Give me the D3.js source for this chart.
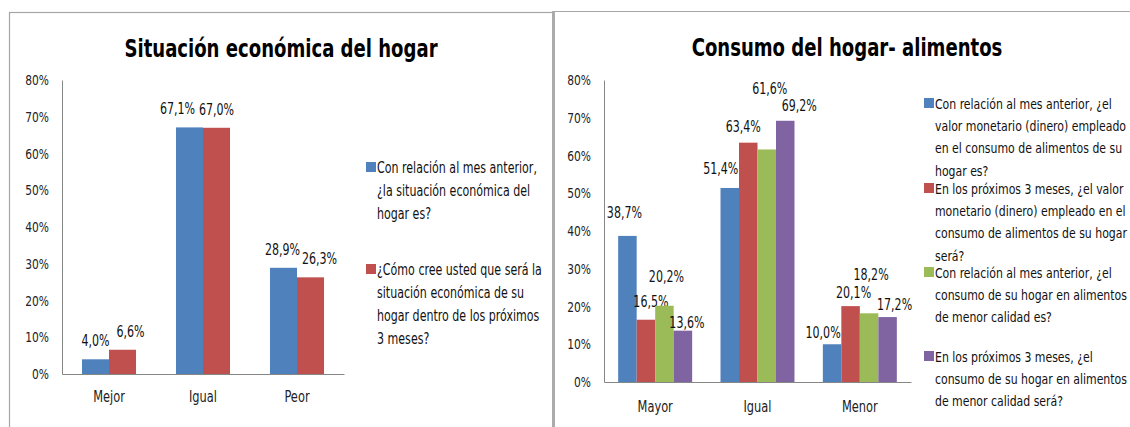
<!DOCTYPE html>
<html>
<head>
<meta charset="utf-8">
<script src="https://cdn.jsdelivr.net/npm/d3@7"></script>
<style>
  html, body { margin: 0; padding: 0; background: #fff; }
  svg { display: block; }
  text { font-family: "DejaVu Sans Condensed", "DejaVu Sans", sans-serif; font-stretch: condensed; fill: #111; }
</style>
</head>
<body>
<svg id="chart" width="1130" height="427"></svg>
<script>
// data //
var hogarCats = ["Mejor", "Igual", "Peor"];
var hogarActual = [4.0, 67.1, 28.9];
var hogarFuturo = [6.6, 67.0, 26.3];
var hogarLegend = [
  ["Con relación al mes anterior,", "¿la situación económica del", "hogar es?"],
  ["¿Cómo cree usted que será la", "situación económica de su", "hogar dentro de los próximos", "3 meses?"]
];

var consumoCats = ["Mayor", "Igual", "Menor"];
var valorActual = [38.7, 51.4, 10.0];
var valorFuturo = [16.5, 63.4, 20.1];
var calidadActual = [20.2, 61.6, 18.2];
var calidadFuturo = [13.6, 69.2, 17.2];
var consumoLegend = [
  ["Con relación al mes anterior, ¿el", "valor monetario (dinero) empleado", "en el consumo de alimentos de su", "hogar es?"],
  ["En los próximos 3 meses, ¿el valor", "monetario (dinero) empleado en el", "consumo de alimentos de su hogar", "será?"],
  ["Con relación al mes anterior, ¿el", "consumo de su hogar en alimentos", "de menor calidad es?"],
  ["En los próximos 3 meses, ¿el", "consumo de su hogar en alimentos", "de menor calidad será?"]
];

var yTicks = [0, 10, 20, 30, 40, 50, 60, 70, 80];

var colors = ["#4f81bd", "#c0504d", "#9bbb59", "#8064a2"];

// label nudges (Excel had the labels dragged around by hand)
var hogarNudge = [[[0, 0], [-12, 0], [-1, 0]], [[8, 0], [0, 0], [9, 0]]];
var consumoNudge = [
  [[-3, -7], [-9, -3], [-9, 5]],
  [[5, -2], [-5, 0], [3, 3]],
  [[2, -13], [3, -44], [2, -22]],
  [[4, 8], [14, 1], [7, 4]]
];

// the original picture is squeezed sideways, so is the text
var SX = 0.82;

var es = d3.formatLocale({decimal: ",", thousands: ".", grouping: [3], currency: ["", "€"]});
var fmt = es.format(".1f");

var svg = d3.select("#chart");

function squeezed(parent, x, y) {
  return parent.append("text")
    .attr("transform", "translate(" + x + "," + y + ") scale(" + SX + ",1)");
}

// frames
svg.append("rect")
  .attr("x", 9.5).attr("y", 12.5)
  .attr("width", 544).attr("height", 440)
  .attr("fill", "none").attr("stroke", "#a6a6a6").attr("stroke-width", 1.2);
svg.append("line")
  .attr("x1", 554).attr("x2", 1130).attr("y1", 11.5).attr("y2", 11.5)
  .attr("stroke", "#a6a6a6").attr("stroke-width", 1.2);
svg.append("line")
  .attr("x1", 553.5).attr("x2", 553.5).attr("y1", 11).attr("y2", 427)
  .attr("stroke", "#ababab").attr("stroke-width", 3);

function drawChart(opt) {
  var g = svg.append("g");
  var series = opt.series;

  var y = d3.scaleLinear().domain([0, 80]).range([opt.bottom, opt.top]);
  var x0 = d3.scaleBand().domain(opt.cats).range([opt.left, opt.right]);
  var groupW = x0.bandwidth() * opt.groupFrac;
  var x1 = d3.scaleBand().domain(d3.range(series.length)).range([0, groupW]);
  var off = (x0.bandwidth() - groupW) / 2;

  squeezed(g, opt.titleX, opt.titleY)
    .attr("text-anchor", "middle")
    .style("font-size", "24.5px").style("font-weight", "bold")
    .style("fill", "#000")
    .text(opt.title);

  var yAxis = d3.axisLeft(y).tickValues(yTicks).tickSize(0).tickPadding(13)
    .tickFormat(function(d) { return d + "%"; });
  var ya = g.append("g")
    .attr("transform", "translate(" + opt.left + ",0)")
    .call(yAxis);
  ya.selectAll("text")
    .attr("x", -13 / SX)
    .attr("transform", "scale(" + SX + ",1)")
    .style("font-size", "14.5px").style("fill", "#222");
  ya.select(".domain").attr("stroke", "#868686");

  var xAxis = d3.axisBottom(x0).tickSize(0).tickPadding(opt.catPad);
  var xa = g.append("g")
    .attr("transform", "translate(0," + opt.bottom + ")")
    .call(xAxis);
  xa.selectAll("text")
    .attr("transform", "scale(" + SX + ",1)")
    .style("font-size", "15.5px").style("fill", "#222");
  xa.select(".domain").attr("stroke", "#868686");

  series.forEach(function(vals, si) {
    var bg = g.append("g");
    bg.selectAll("rect")
      .data(vals)
      .enter().append("rect")
      .attr("x", function(d, i) { return x0(opt.cats[i]) + off + x1(si); })
      .attr("y", function(d) { return y(d); })
      .attr("width", x1.bandwidth())
      .attr("height", function(d) { return opt.bottom - y(d); })
      .attr("fill", colors[si]);
    vals.forEach(function(d, i) {
      var lx = x0(opt.cats[i]) + off + x1(si) + x1.bandwidth() / 2 + opt.nudge[si][i][0];
      var ly = y(d) - opt.labelGap + opt.nudge[si][i][1];
      squeezed(bg, lx, ly)
        .attr("text-anchor", "middle")
        .style("font-size", "15px")
        .text(fmt(d) + "%");
    });
  });

  // legend
  var lg = g.append("g");
  opt.legend.forEach(function(lines, si) {
    var ly = opt.legendY[si];
    lg.append("rect")
      .attr("x", opt.legendX).attr("y", ly - 5)
      .attr("width", 10).attr("height", 10)
      .attr("fill", colors[si]);
    squeezed(lg, opt.legendX + 11, ly + 5.5)
      .style("font-size", opt.legendSize)
      .selectAll("tspan")
      .data(lines)
      .enter().append("tspan")
      .attr("x", 0)
      .attr("dy", function(d, i) { return i === 0 ? 0 : opt.lineH; })
      .text(function(d) { return d; });
  });
}

drawChart({
  title: "Situación económica del hogar", titleX: 281, titleY: 57,
  cats: hogarCats, series: [hogarActual, hogarFuturo],
  left: 62, right: 344, top: 80, bottom: 374, groupFrac: 0.575,
  catPad: 17, labelGap: 13, nudge: hogarNudge,
  legend: hogarLegend, legendX: 366, legendY: [167, 269], lineH: 23.3, legendSize: "15px"
});

drawChart({
  title: "Consumo del hogar- alimentos", titleX: 847, titleY: 56,
  cats: consumoCats, series: [valorActual, valorFuturo, calidadActual, calidadFuturo],
  left: 604, right: 911, top: 80, bottom: 382, groupFrac: 0.723,
  catPad: 19, labelGap: 11, nudge: consumoNudge,
  legend: consumoLegend, legendX: 924, legendY: [103, 188, 272, 356], lineH: 22.4, legendSize: "14.8px"
});
</script>
</body>
</html>
